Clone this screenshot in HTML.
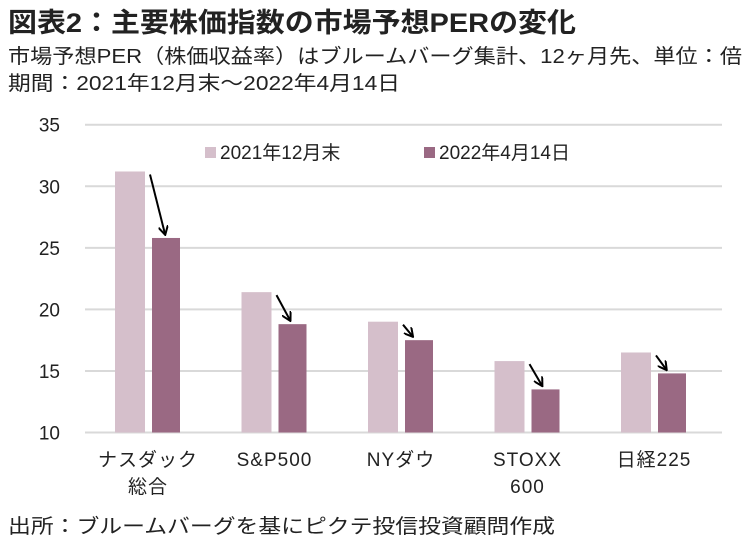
<!DOCTYPE html>
<html><head><meta charset="utf-8"><style>
body{margin:0;width:751px;height:547px;background:#fff;overflow:hidden;font-family:"Liberation Sans","Noto Sans CJK JP",sans-serif;color:#222}
.t{position:absolute;left:8px;white-space:nowrap;transform-origin:0 0}
</style></head><body>
<div class="t" data-tw="568" style="top:1px;font-size:27px;font-weight:bold">図表2：主要株価指数の市場予想PERの変化</div>
<div class="t" data-tw="734" style="top:40px;font-size:20px">市場予想PER（株価収益率）はブルームバーグ集計、12ヶ月先、単位：倍</div>
<div class="t" data-tw="392" style="top:67px;font-size:20px">期間：2021年12月末～2022年4月14日</div>
<div class="t" data-tw="547" style="top:510px;font-size:20px">出所：ブルームバーグを基にピクテ投信投資顧問作成</div>
<svg id="c" width="751" height="547" style="position:absolute;left:0;top:0"></svg>
<script>
const categories=[["ナスダック","総合"],["S&P500"],["NYダウ"],["STOXX","600"],["日経225"]];
const dec2021=[31.2,21.4,19.0,15.8,16.5];
const apr2022=[25.8,18.8,17.5,13.5,14.8];
const yTicks=[10,15,20,25,30,35];
const seriesNames=["2021年12月末","2022年4月14日"];
document.querySelectorAll('.t').forEach(d=>{const w=d.getBoundingClientRect().width;d.style.transform='scaleX('+(+d.dataset.tw/w)+')';});
const svg=document.getElementById('c');const NS="http://www.w3.org/2000/svg";
function el(t,a){const e=document.createElementNS(NS,t);for(const k in a)e.setAttribute(k,a[k]);svg.appendChild(e);return e;}
const y=v=>432.5-(v-10)*(432.5-124.7)/25;
const gx=i=>115+i*126.5;
yTicks.forEach(v=>{
 const l=el('line',{x1:85,x2:722,y1:y(v),y2:y(v),stroke:'#d9d9d9','stroke-width':2});
 
 const t=el('text',{x:60,y:y(v)+7,'text-anchor':'end','font-size':19,fill:'#222'});t.textContent=v;
 
});
const defs=el('defs',{});
defs.innerHTML='<marker id="ah" markerWidth="10" markerHeight="10" refX="8" refY="5" orient="auto" markerUnits="userSpaceOnUse"><path d="M0,0 L9,5 L0,10" fill="none" stroke="#000" stroke-width="2"/></marker>';
categories.forEach((c,i)=>{
 const x=gx(i);
 const a=el('rect',{x:x,y:y(dec2021[i]),width:30,height:y(10)-y(dec2021[i]),fill:'#d5bfcb'});
 
 const b=el('rect',{x:x+37,y:y(apr2022[i]),width:28,height:y(10)-y(apr2022[i]),fill:'#9a6983'});
 
 const y1=y(dec2021[i])+3,y2=y(apr2022[i])-4;
 const x1=x+35,x2=x1+Math.min(15,(y2-y1)*0.3+6);
 const ar=el('line',{x1:x1,y1:y1,x2:x2,y2:y2,stroke:'#000','stroke-width':2,'marker-end':'url(#ah)'});
 
 c.forEach((s,j)=>{const t=el('text',{x:x+33,y:466+j*27,'text-anchor':'middle','font-size':19,'letter-spacing':1,fill:'#222'});t.textContent=s;
 });
});
[[205,seriesNames[0],'#d5bfcb'],[424,seriesNames[1],'#9a6983']].forEach((l,i)=>{
 const r=el('rect',{x:l[0],y:147,width:11,height:11,fill:l[2]});
 
 const t=el('text',{x:l[0]+15,y:159,'font-size':19,fill:'#222'});t.textContent=l[1];
 
});
</script>
</body></html>
